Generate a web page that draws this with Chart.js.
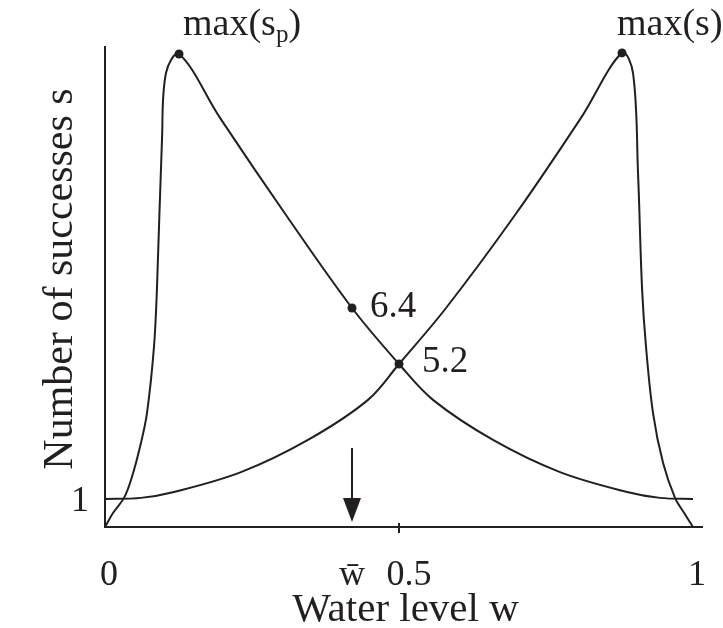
<!DOCTYPE html>
<html><head><meta charset="utf-8">
<script src="https://cdn.jsdelivr.net/npm/chart.js@4/dist/chart.umd.min.js"></script>
<style>html,body{margin:0;padding:0;background:#fff}#wrap{width:723px;height:628px}</style>
</head><body><div id="wrap"><canvas id="c" width="723" height="628"></canvas></div>
<script>
// Curve s_p (peaks early)
const spW = [0, 0.0136, 0.0323, 0.0442, 0.0595, 0.0714, 0.0833, 0.0884, 0.0969, 0.1037, 0.1259, 0.1956, 0.3078, 0.4201, 0.5, 0.5578, 0.6599, 0.7738, 0.8878, 0.9439, 1.0];
const spS = [0, 0.5, 1.04, 1.68, 2.86, 4.07, 6.43, 8.54, 13.82, 16.21, 16.89, 14.61, 11.14, 7.82, 5.82, 4.54, 3.11, 1.96, 1.25, 1.04, 1.0];
// Curve s (peaks late)
const sW = [0, 0.0612, 0.1173, 0.2313, 0.3452, 0.4473, 0.5, 0.58, 0.6973, 0.8095, 0.8793, 0.898, 0.9065, 0.9133, 0.9201, 0.932, 0.949, 0.9694, 0.985, 1.0];
const sS = [1.0, 1.04, 1.25, 1.96, 3.11, 4.54, 5.82, 7.82, 11.14, 14.61, 16.93, 16.21, 12.64, 8.54, 6.43, 4.07, 2.29, 1.04, 0.5, 0];
// Marked points
const markW = [0.1259, 0.8793, 0.4201, 0.5];
const markS = [16.89, 16.93, 7.82, 5.82];
const markLabels = ['max(s_p)', 'max(s)', '6.4', '5.2'];
// Axes
const xTickValues = [0, 0.5, 1];
const xTickLabels = ['0', '0.5', '1'];
const yTickValues = [1];
const yTickLabels = ['1'];
const wBar = 0.4201;
const wBarLabel = 'w\u0304';
const arrowFrom = 2.82, arrowTo = 0.18;
const xTitle = 'Water level w';
const yTitle = 'Number of successes s';

const INK = '#231f20';
const FONT = '"Liberation Serif", "DejaVu Serif", serif';

const toPts = (xs, ys) => xs.map((x, i) => ({x, y: ys[i]}));

const labelOffsets = [[4, -19], [-5, -18], [18, 9], [23, 8]];

const deco = {
  id: 'deco',
  afterDraw(chart) {
    const ctx = chart.ctx, xs = chart.scales.x, ys = chart.scales.y;
    const area = chart.chartArea;
    ctx.save();
    ctx.fillStyle = INK; ctx.strokeStyle = INK;
    markLabels.forEach((lab, i) => {
      const px = xs.getPixelForValue(markW[i]), py = ys.getPixelForValue(markS[i]);
      let x = px + labelOffsets[i][0], y = py + labelOffsets[i][1];
      ctx.textAlign = 'left'; ctx.textBaseline = 'alphabetic';
      const m = lab.match(/^(.*)_(\w)(.*)$/);
      if (m) {
        ctx.font = '38px ' + FONT;
        ctx.fillText(m[1], x, y); x += ctx.measureText(m[1]).width;
        ctx.font = '25px ' + FONT;
        ctx.fillText(m[2], x, y + 7); x += ctx.measureText(m[2]).width;
        ctx.font = '38px ' + FONT;
        ctx.fillText(m[3], x, y);
      } else {
        ctx.font = (i < 2 ? '38px ' : '37px ') + FONT;
        ctx.fillText(lab, x, y);
      }
    });
    ctx.lineWidth = 2;
    const p5 = xs.getPixelForValue(0.5);
    ctx.beginPath(); ctx.moveTo(p5, area.bottom - 4); ctx.lineTo(p5, area.bottom + 6); ctx.stroke();
    ctx.font = '36px ' + FONT; ctx.textAlign = 'center'; ctx.textBaseline = 'alphabetic';
    xTickValues.forEach((v, i) => {
      let px = xs.getPixelForValue(v) + 4;
      if (Math.abs(v - wBar) < 0.1) px += 6;
      ctx.fillText(xTickLabels[i], px, area.bottom + 58);
    });
    ctx.fillText(wBarLabel, xs.getPixelForValue(wBar), area.bottom + 58);
    ctx.textAlign = 'right';
    yTickValues.forEach((v, i) => {
      ctx.fillText(yTickLabels[i], area.left - 16, ys.getPixelForValue(v) + 12);
    });
    const ax = xs.getPixelForValue(wBar);
    const ay1 = ys.getPixelForValue(arrowFrom), ay2 = ys.getPixelForValue(arrowTo);
    ctx.lineWidth = 2;
    ctx.beginPath(); ctx.moveTo(ax, ay1); ctx.lineTo(ax, ay2 - 20); ctx.stroke();
    ctx.beginPath(); ctx.moveTo(ax, ay2); ctx.lineTo(ax - 9, ay2 - 24); ctx.lineTo(ax + 9, ay2 - 24); ctx.closePath(); ctx.fill();
    ctx.font = '41px ' + FONT; ctx.textAlign = 'center';
    ctx.fillText(xTitle, (area.left + area.right) / 2 + 2, area.bottom + 94);
    ctx.save();
    ctx.font = '42px ' + FONT;
    ctx.translate(area.left - 33, (area.top + area.bottom) / 2 - 8);
    ctx.rotate(-Math.PI / 2);
    ctx.fillText(yTitle, 0, 0);
    ctx.restore();
    ctx.restore();
  }
};

new Chart(document.getElementById('c'), {
  type: 'scatter',
  data: {
    datasets: [
      { data: toPts(spW, spS), showLine: true, borderColor: INK, borderWidth: 2, pointRadius: 0, tension: 0.35, fill: false },
      { data: toPts(sW, sS), showLine: true, borderColor: INK, borderWidth: 2, pointRadius: 0, tension: 0.35, fill: false },
      { data: toPts(markW, markS), showLine: false, pointRadius: 4.5, pointBackgroundColor: INK, pointBorderColor: INK, pointBorderWidth: 0 }
    ]
  },
  options: {
    responsive: false, animation: false, devicePixelRatio: 1,
    layout: { padding: { left: 105, top: 47, right: 21, bottom: 101 } },
    plugins: { legend: { display: false }, tooltip: { enabled: false } },
    scales: {
      x: { type: 'linear', min: 0, max: 1.0153,
           grid: { display: false, drawTicks: false }, ticks: { display: false },
           border: { display: true, color: INK, width: 2 },
           afterFit: s => { s.height = 0; } },
      y: { type: 'linear', min: 0, max: 17.14,
           grid: { display: false, drawTicks: false }, ticks: { display: false },
           border: { display: true, color: INK, width: 2 },
           afterFit: s => { s.width = 0; } }
    }
  },
  plugins: [deco]
});
</script></body></html>
